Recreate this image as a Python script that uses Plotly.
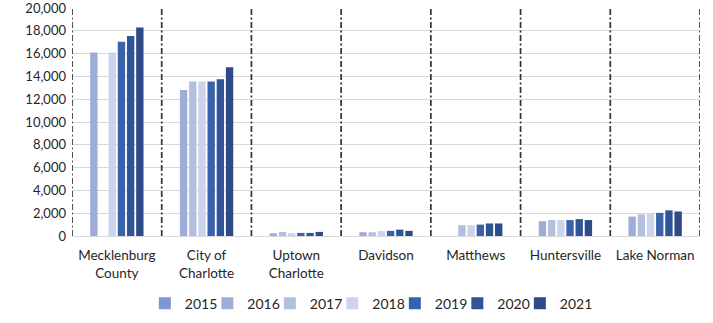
import plotly.graph_objects as go

categories = ["Mecklenburg<br>County", "City of<br>Charlotte", "Uptown<br>Charlotte",
              "Davidson", "Matthews", "Huntersville", "Lake Norman"]
years = ["2015", "2016", "2017", "2018", "2019", "2020", "2021"]

v2015 = [None, None, None, None, None, None, None]
v2016 = [16100, 12800, 240, 330, None, 1300, 1700]
v2017 = [None, 13550, 360, 330, 950, 1400, 1900]
v2018 = [16100, 13550, 240, 430, 950, 1400, 2000]
v2019 = [17050, 13550, 270, 450, 1000, 1400, 2030]
v2020 = [17550, 13750, 270, 560, 1100, 1480, 2250]
v2021 = [18300, 14800, 360, 450, 1100, 1400, 2150]
yticks = [0, 2000, 4000, 6000, 8000, 10000, 12000, 14000, 16000, 18000, 20000]

series = [v2015, v2016, v2017, v2018, v2019, v2020, v2021]
colors = ["#7F97CF", "#9DADD7", "#B4BFE0", "#CDD3EA", "#3A62AA", "#2F5597", "#2C4B87"]

fig = go.Figure()
for y, vals, c in zip(years, series, colors):
    fig.add_trace(go.Bar(name=y, x=list(range(len(categories))), y=vals,
                         marker=dict(color=c, line=dict(width=0))))
# blank spacer legend entry so the last label is not clipped
fig.add_trace(go.Bar(name=" ", x=list(range(len(categories))), y=v2015,
                     marker=dict(color="rgba(0,0,0,0)", line=dict(width=0)),
                     showlegend=True, hoverinfo="skip"))

for i in range(len(categories) + 1):
    fig.add_shape(type="line", xref="x", yref="paper", x0=i - 0.5, x1=i - 0.5,
                  y0=0, y1=1,
                  line=dict(color="#333333", width=1.7, dash="6px,2.5px,2px,2.5px"))

fig.update_layout(
    width=713, height=323,
    margin=dict(l=72, r=13, t=8, b=87, autoexpand=False),
    paper_bgcolor="white", plot_bgcolor="white",
    barmode="group", bargap=0.18, bargroupgap=0.2,
    font=dict(family="Lato, Carlito, sans-serif", size=13.5, color="#262626"),
    showlegend=True,
    legend=dict(orientation="h", x=0.116, xanchor="left", y=-0.297, yanchor="middle",
                font=dict(size=14), itemwidth=30, traceorder="normal",
                entrywidth=17.5, entrywidthmode="pixels"),
    xaxis=dict(tickmode="array", tickvals=list(range(len(categories))), ticktext=categories,
               range=[-0.5, len(categories) - 0.5], showgrid=False, ticks="",
               showline=True, linecolor="#D9D9D9", linewidth=1, automargin=False,
               ticklabelstandoff=7),
    yaxis=dict(range=[0, 20000], tickmode="array", tickvals=yticks, tickformat=",",
               showgrid=True, gridcolor="#D9D9D9", gridwidth=1, zeroline=False, ticks="",
               showline=False, automargin=False, ticklabeloverflow="allow",
               ticklabelstandoff=5, tickfont=dict(size=13)),
)

fig.write_html("out.html", config={"displayModeBar": False},
               post_script="document.body.style.margin='0px';")
